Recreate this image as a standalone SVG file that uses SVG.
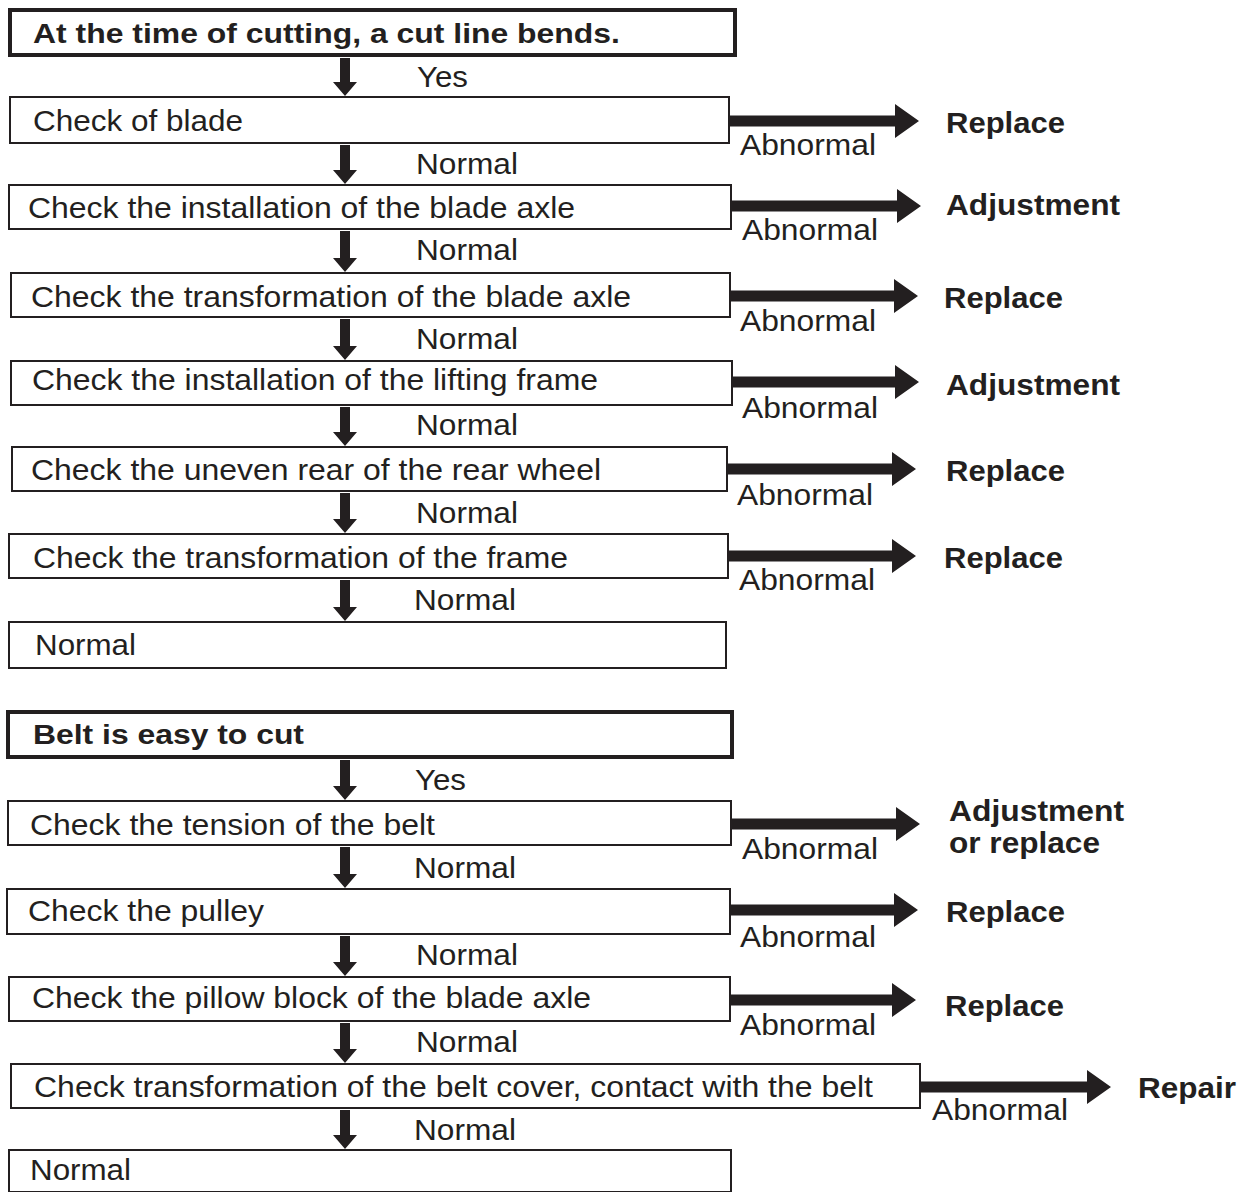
<svg xmlns="http://www.w3.org/2000/svg" width="1239" height="1192" viewBox="0 0 1239 1192">
<style>
.bg{fill:#ffffff}
.box{fill:#ffffff;stroke:#231f20;stroke-width:2}
.hdr{fill:#ffffff;stroke:#231f20;stroke-width:4}
.t{font-family:"Liberation Sans",Arial,sans-serif;font-size:29px;fill:#231f20}
.b{font-family:"Liberation Sans",Arial,sans-serif;font-size:28px;font-weight:bold;fill:#231f20}
.r{font-family:"Liberation Sans",Arial,sans-serif;font-size:30px;font-weight:bold;fill:#231f20}
.arr{fill:#231f20}
</style>
<rect class="bg" x="0" y="0" width="1239" height="1192"/>
<g id="connectors">
<path class="arr" d="M340,58 V82 H333 L345,96 L357,82 H350 V58 Z"/>
<path class="arr" d="M340,145 V170 H333 L345,184 L357,170 H350 V145 Z"/>
<path class="arr" d="M340,231 V258 H333 L345,272 L357,258 H350 V231 Z"/>
<path class="arr" d="M340,319 V346 H333 L345,360 L357,346 H350 V319 Z"/>
<path class="arr" d="M340,407 V432 H333 L345,446 L357,432 H350 V407 Z"/>
<path class="arr" d="M340,493 V519 H333 L345,533 L357,519 H350 V493 Z"/>
<path class="arr" d="M340,580 V607 H333 L345,621 L357,607 H350 V580 Z"/>
<path class="arr" d="M340,760 V786 H333 L345,800 L357,786 H350 V760 Z"/>
<path class="arr" d="M340,847 V874 H333 L345,888 L357,874 H350 V847 Z"/>
<path class="arr" d="M340,936 V962 H333 L345,976 L357,962 H350 V936 Z"/>
<path class="arr" d="M340,1023 V1049 H333 L345,1063 L357,1049 H350 V1023 Z"/>
<path class="arr" d="M340,1110 V1135 H333 L345,1149 L357,1135 H350 V1110 Z"/>
<path class="arr" d="M729,115.5 H895 V104 L919,121 L895,138 V126.5 H729 Z"/>
<path class="arr" d="M731,200.5 H897 V189 L921,206 L897,223 V211.5 H731 Z"/>
<path class="arr" d="M730,290.5 H894 V279 L918,296 L894,313 V301.5 H730 Z"/>
<path class="arr" d="M732,376.5 H895 V365 L919,382 L895,399 V387.5 H732 Z"/>
<path class="arr" d="M727,463.5 H892 V452 L916,469 L892,486 V474.5 H727 Z"/>
<path class="arr" d="M728,550.5 H892 V539 L916,556 L892,573 V561.5 H728 Z"/>
<path class="arr" d="M731,818.5 H896 V807 L920,824 L896,841 V829.5 H731 Z"/>
<path class="arr" d="M730,904.5 H894 V893 L918,910 L894,927 V915.5 H730 Z"/>
<path class="arr" d="M730,994.5 H892 V983 L916,1000 L892,1017 V1005.5 H730 Z"/>
<path class="arr" d="M920,1081.5 H1087 V1070 L1111,1087 L1087,1104 V1092.5 H920 Z"/>
</g>
<g id="h1"><rect class="hdr" x="10" y="10" width="725" height="45"/><text class="b" x="33" y="43" textLength="587" lengthAdjust="spacingAndGlyphs">At the time of cutting, a cut line bends.</text></g>
<g id="n1"><rect class="box" x="10" y="97" width="719" height="46"/><text class="t" x="33" y="131" textLength="210" lengthAdjust="spacingAndGlyphs">Check of blade</text></g>
<g id="n2"><rect class="box" x="9" y="185" width="722" height="44"/><text class="t" x="28" y="218" textLength="547" lengthAdjust="spacingAndGlyphs">Check the installation of the blade axle</text></g>
<g id="n3"><rect class="box" x="11" y="273" width="719" height="44"/><text class="t" x="31" y="307" textLength="600" lengthAdjust="spacingAndGlyphs">Check the transformation of the blade axle</text></g>
<g id="n4"><rect class="box" x="11" y="361" width="721" height="44"/><text class="t" x="32" y="390" textLength="566" lengthAdjust="spacingAndGlyphs">Check the installation of the lifting frame</text></g>
<g id="n5"><rect class="box" x="12" y="447" width="715" height="44"/><text class="t" x="31" y="480" textLength="570" lengthAdjust="spacingAndGlyphs">Check the uneven rear of the rear wheel</text></g>
<g id="n6"><rect class="box" x="9" y="534" width="719" height="44"/><text class="t" x="33" y="568" textLength="535" lengthAdjust="spacingAndGlyphs">Check the transformation of the frame</text></g>
<g id="n7"><rect class="box" x="9" y="622" width="717" height="46"/><text class="t" x="35" y="655" textLength="101" lengthAdjust="spacingAndGlyphs">Normal</text></g>
<g id="h2"><rect class="hdr" x="8" y="712" width="724" height="45"/><text class="b" x="33" y="744" textLength="271" lengthAdjust="spacingAndGlyphs">Belt is easy to cut</text></g>
<g id="n8"><rect class="box" x="8" y="801" width="723" height="44"/><text class="t" x="30" y="835" textLength="405" lengthAdjust="spacingAndGlyphs">Check the tension of the belt</text></g>
<g id="n9"><rect class="box" x="7" y="889" width="723" height="45"/><text class="t" x="28" y="921" textLength="236" lengthAdjust="spacingAndGlyphs">Check the pulley</text></g>
<g id="n10"><rect class="box" x="9" y="977" width="721" height="44"/><text class="t" x="32" y="1008" textLength="559" lengthAdjust="spacingAndGlyphs">Check the pillow block of the blade axle</text></g>
<g id="n11"><rect class="box" x="11" y="1064" width="909" height="44"/><text class="t" x="34" y="1097" textLength="839" lengthAdjust="spacingAndGlyphs">Check transformation of the belt cover, contact with the belt</text></g>
<g id="n12"><rect class="box" x="9" y="1150" width="722" height="42"/><text class="t" x="30" y="1180" textLength="101" lengthAdjust="spacingAndGlyphs">Normal</text></g>
<g id="labels">
<text class="t" x="417" y="87" textLength="51" lengthAdjust="spacingAndGlyphs">Yes</text>
<text class="t" x="416" y="174" textLength="102" lengthAdjust="spacingAndGlyphs">Normal</text>
<text class="t" x="416" y="260" textLength="102" lengthAdjust="spacingAndGlyphs">Normal</text>
<text class="t" x="416" y="349" textLength="102" lengthAdjust="spacingAndGlyphs">Normal</text>
<text class="t" x="416" y="435" textLength="102" lengthAdjust="spacingAndGlyphs">Normal</text>
<text class="t" x="416" y="523" textLength="102" lengthAdjust="spacingAndGlyphs">Normal</text>
<text class="t" x="414" y="610" textLength="102" lengthAdjust="spacingAndGlyphs">Normal</text>
<text class="t" x="415" y="790" textLength="51" lengthAdjust="spacingAndGlyphs">Yes</text>
<text class="t" x="414" y="878" textLength="102" lengthAdjust="spacingAndGlyphs">Normal</text>
<text class="t" x="416" y="965" textLength="102" lengthAdjust="spacingAndGlyphs">Normal</text>
<text class="t" x="416" y="1052" textLength="102" lengthAdjust="spacingAndGlyphs">Normal</text>
<text class="t" x="414" y="1140" textLength="102" lengthAdjust="spacingAndGlyphs">Normal</text>
<text class="t" x="740" y="155" textLength="136" lengthAdjust="spacingAndGlyphs">Abnormal</text>
<text class="t" x="742" y="240" textLength="136" lengthAdjust="spacingAndGlyphs">Abnormal</text>
<text class="t" x="740" y="331" textLength="136" lengthAdjust="spacingAndGlyphs">Abnormal</text>
<text class="t" x="742" y="418" textLength="136" lengthAdjust="spacingAndGlyphs">Abnormal</text>
<text class="t" x="737" y="505" textLength="136" lengthAdjust="spacingAndGlyphs">Abnormal</text>
<text class="t" x="739" y="590" textLength="136" lengthAdjust="spacingAndGlyphs">Abnormal</text>
<text class="t" x="742" y="859" textLength="136" lengthAdjust="spacingAndGlyphs">Abnormal</text>
<text class="t" x="740" y="947" textLength="136" lengthAdjust="spacingAndGlyphs">Abnormal</text>
<text class="t" x="740" y="1035" textLength="136" lengthAdjust="spacingAndGlyphs">Abnormal</text>
<text class="t" x="932" y="1120" textLength="136" lengthAdjust="spacingAndGlyphs">Abnormal</text>
</g>
<g id="results">
<text class="r" x="946" y="133" textLength="119" lengthAdjust="spacingAndGlyphs">Replace</text>
<text class="r" x="946" y="215" textLength="174" lengthAdjust="spacingAndGlyphs">Adjustment</text>
<text class="r" x="944" y="308" textLength="119" lengthAdjust="spacingAndGlyphs">Replace</text>
<text class="r" x="946" y="395" textLength="174" lengthAdjust="spacingAndGlyphs">Adjustment</text>
<text class="r" x="946" y="481" textLength="119" lengthAdjust="spacingAndGlyphs">Replace</text>
<text class="r" x="944" y="568" textLength="119" lengthAdjust="spacingAndGlyphs">Replace</text>
<text class="r" x="949" y="821" textLength="175" lengthAdjust="spacingAndGlyphs">Adjustment</text>
<text class="r" x="949" y="853" textLength="151" lengthAdjust="spacingAndGlyphs">or replace</text>
<text class="r" x="946" y="922" textLength="119" lengthAdjust="spacingAndGlyphs">Replace</text>
<text class="r" x="945" y="1016" textLength="119" lengthAdjust="spacingAndGlyphs">Replace</text>
<text class="r" x="1138" y="1098" textLength="98" lengthAdjust="spacingAndGlyphs">Repair</text>
</g>
</svg>
